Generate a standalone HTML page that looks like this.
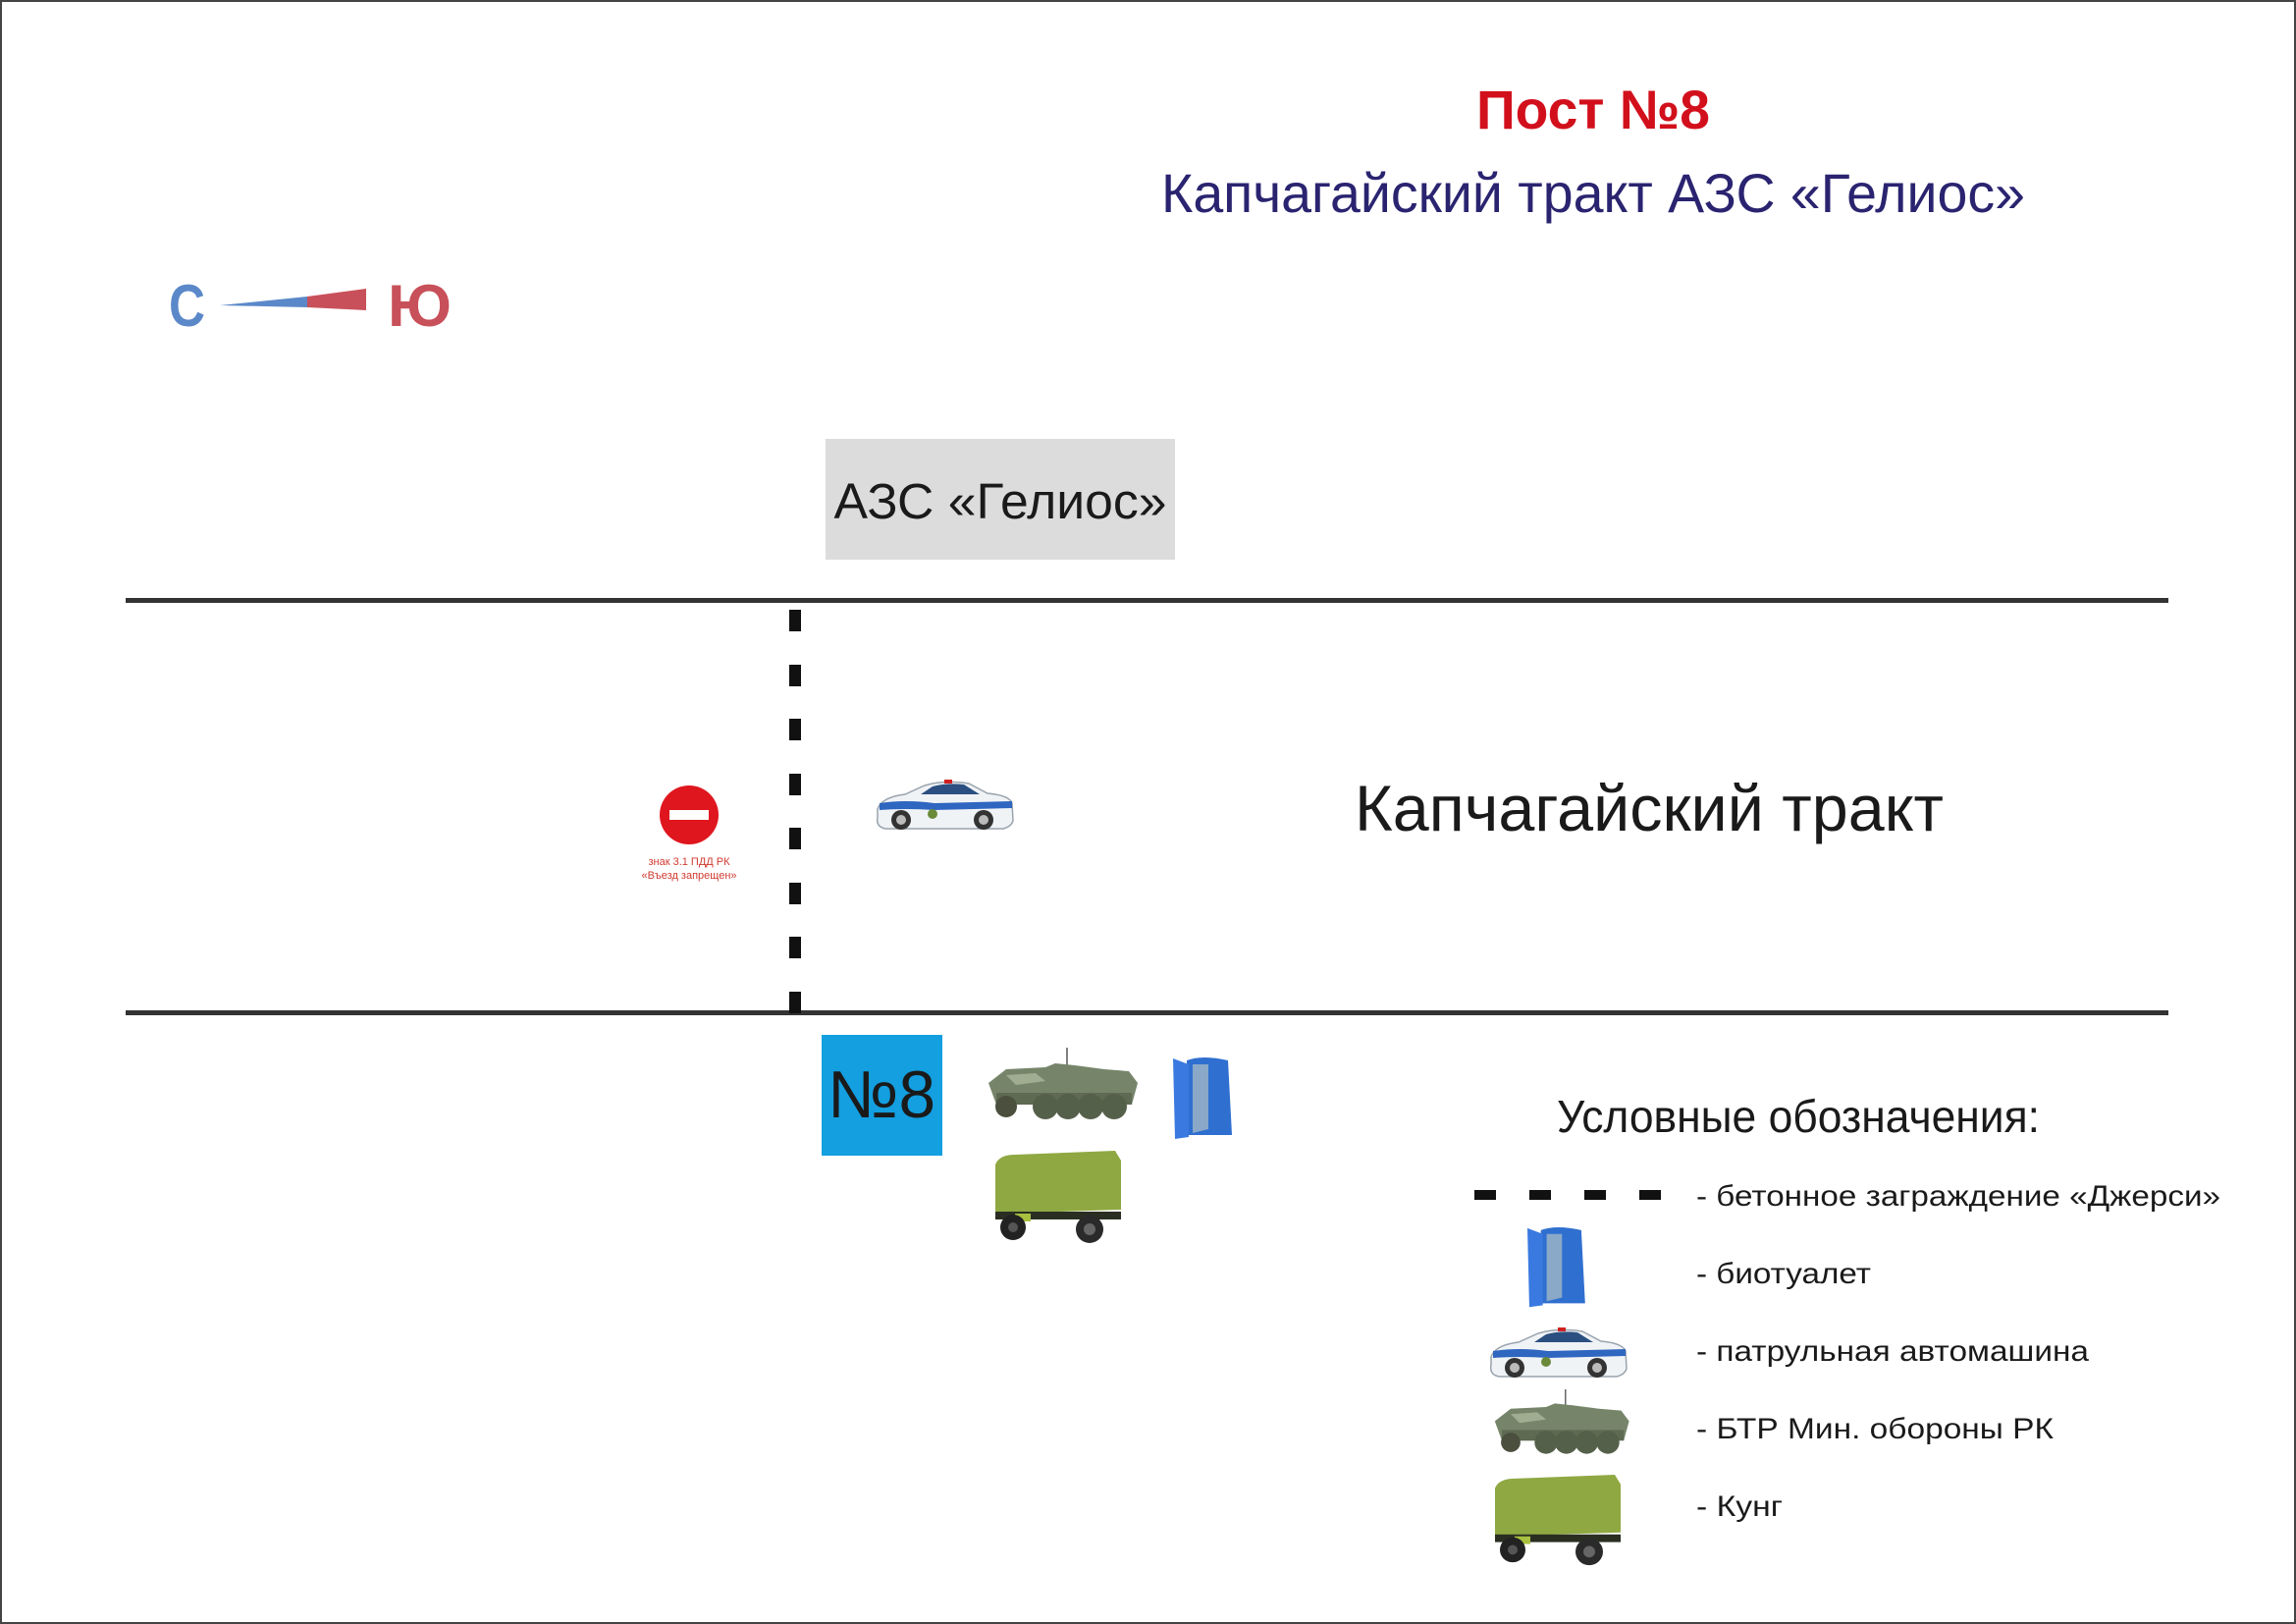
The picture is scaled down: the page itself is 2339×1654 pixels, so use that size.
<!DOCTYPE html>
<html><head><meta charset="utf-8"><style>
html,body{margin:0;padding:0;background:#fff;}
svg{display:block;}
text{font-family:"Liberation Sans",sans-serif;}
</style></head><body>
<svg width="2339" height="1654" viewBox="0 0 2339 1654" xmlns="http://www.w3.org/2000/svg">
<defs>
<g id="car">
<path d="M2,30 Q6,18 30,15 L50,6 Q70,0 95,4 L114,14 Q136,16 139,24 L140,42 Q138,48 130,50 L10,50 Q0,48 2,38 Z" fill="#f0f3f6" stroke="#9aa4ae" stroke-width="1.5"/>
<path d="M46,15 L58,7 Q72,3 90,5 L106,15 Z" fill="#2b4f80"/>
<path d="M4,24 Q30,20 60,24 L139,22 L139,29 L60,31 Q30,29 4,31 Z" fill="#2f66c0"/>
<rect x="70" y="0" width="8" height="4" fill="#d02020"/>
<circle cx="26" cy="41" r="10" fill="#333"/><circle cx="26" cy="41" r="5" fill="#bbb"/>
<circle cx="110" cy="41" r="10" fill="#333"/><circle cx="110" cy="41" r="5" fill="#bbb"/>
<circle cx="58" cy="35" r="5" fill="#6a8a3a"/>
</g>
<g id="btr">
<line x1="82" y1="0" x2="82" y2="28" stroke="#555" stroke-width="1.5"/>
<path d="M2,36 L20,22 L60,20 L70,16 L90,18 L120,22 L145,24 L154,36 L148,58 L10,58 Z" fill="#76856a"/>
<path d="M20,28 L50,26 L60,34 L30,38 Z" fill="#a0ad90"/>
<rect x="10" y="46" width="138" height="12" fill="#5e6a52"/>
<circle cx="20" cy="60" r="11" fill="#4a4f3e"/>
<circle cx="60" cy="60" r="13" fill="#55604a"/><circle cx="83" cy="60" r="13" fill="#55604a"/>
<circle cx="106" cy="60" r="13" fill="#55604a"/><circle cx="130" cy="60" r="13" fill="#55604a"/>
</g>
<g id="toilet">
<path d="M14,6 Q30,0 56,6 L60,82 L14,82 Z" fill="#2f6fd0"/>
<path d="M20,10 L36,10 L36,76 L20,80 Z" fill="#8aa8c8"/>
<path d="M0,4 L16,10 L16,84 L2,86 Z" fill="#3a7ae0"/>
</g>
<g id="kung">
<path d="M0,14 Q4,4 20,4 L122,0 L128,10 L128,60 L0,64 Z" fill="#8fa842"/>
<rect x="0" y="62" width="128" height="8" fill="#2a2e22"/>
<rect x="20" y="64" width="16" height="8" fill="#a8c040"/>
<circle cx="18" cy="78" r="13" fill="#222"/><circle cx="18" cy="78" r="5" fill="#555"/>
<circle cx="96" cy="80" r="14" fill="#2a2a2a"/><circle cx="96" cy="80" r="6" fill="#666"/>
</g>
</defs>
<rect x="1" y="1" width="2337" height="1652" fill="#fff" stroke="#444" stroke-width="2"/>

<text x="1623" y="131" text-anchor="middle" font-size="56" font-weight="bold" fill="#d2101c" textLength="238" lengthAdjust="spacingAndGlyphs">Пост №8</text>
<text x="1623" y="216" text-anchor="middle" font-size="56" fill="#2a2470" textLength="880" lengthAdjust="spacingAndGlyphs">Капчагайский тракт АЗС «Гелиос»</text>

<text x="172" y="332" font-size="60" font-weight="bold" fill="#5b88c8" textLength="37" lengthAdjust="spacingAndGlyphs">С</text>
<polygon points="224,311 313,302 313,313" fill="#5b88c8"/>
<polygon points="313,302 373,294 373,316 313,313" fill="#c8505a"/>
<text x="395" y="332" font-size="60" font-weight="bold" fill="#c8505a" textLength="65" lengthAdjust="spacingAndGlyphs">Ю</text>

<rect x="841" y="447" width="356" height="123" fill="#dcdcdc"/>
<text x="1019" y="528" text-anchor="middle" font-size="51" fill="#1a1a1a" textLength="339" lengthAdjust="spacingAndGlyphs">АЗС «Гелиос»</text>

<rect x="128" y="609" width="2081" height="5" fill="#333"/>
<rect x="128" y="1029" width="2081" height="5" fill="#333"/>

<g fill="#111">
<rect x="804" y="621" width="12" height="22"/><rect x="804" y="677" width="12" height="22"/>
<rect x="804" y="732" width="12" height="22"/><rect x="804" y="788" width="12" height="22"/>
<rect x="804" y="843" width="12" height="22"/><rect x="804" y="899" width="12" height="22"/>
<rect x="804" y="954" width="12" height="22"/><rect x="804" y="1010" width="12" height="22"/>
</g>

<circle cx="702" cy="830" r="30" fill="#e0161e"/>
<rect x="682" y="825" width="40" height="10" fill="#fff"/>
<text x="702" y="881" text-anchor="middle" font-size="11" fill="#d03a30">знак 3.1 ПДД РК</text>
<text x="702" y="895" text-anchor="middle" font-size="11" fill="#d03a30">«Въезд запрещен»</text>

<use href="#car" transform="translate(892,794)"/>
<text x="1380" y="846" font-size="66" fill="#1a1a1a" textLength="600" lengthAdjust="spacingAndGlyphs">Капчагайский тракт</text>

<rect x="837" y="1054" width="123" height="123" fill="#139fe0"/>
<text x="898" y="1138" text-anchor="middle" font-size="68" fill="#1a1a1a" textLength="110" lengthAdjust="spacingAndGlyphs">№8</text>

<use href="#btr" transform="translate(1005,1067)"/>
<use href="#toilet" transform="translate(1195,1074)"/>
<use href="#kung" transform="translate(1014,1172)"/>

<text x="1586" y="1153" font-size="46" fill="#1a1a1a" textLength="492" lengthAdjust="spacingAndGlyphs">Условные обозначения:</text>
<g fill="#111">
<rect x="1502" y="1212" width="22" height="10"/><rect x="1558" y="1212" width="22" height="10"/>
<rect x="1614" y="1212" width="22" height="10"/><rect x="1670" y="1212" width="22" height="10"/>
</g>
<g font-size="30" fill="#1a1a1a">
<text x="1728" y="1228" textLength="534" lengthAdjust="spacingAndGlyphs">- бетонное заграждение «Джерси»</text>
<text x="1728" y="1307" textLength="178" lengthAdjust="spacingAndGlyphs">- биотуалет</text>
<text x="1728" y="1386" textLength="400" lengthAdjust="spacingAndGlyphs">- патрульная автомашина</text>
<text x="1728" y="1465" textLength="364" lengthAdjust="spacingAndGlyphs">- БТР Мин. обороны РК</text>
<text x="1728" y="1544" textLength="88" lengthAdjust="spacingAndGlyphs">- Кунг</text>
</g>
<use href="#toilet" transform="translate(1556,1247) scale(0.98)"/>
<use href="#car" transform="translate(1517,1352)"/>
<use href="#btr" transform="translate(1521,1415) scale(0.9,0.9)"/>
<use href="#kung" transform="translate(1523,1502) scale(1,0.98)"/>
</svg>
</body></html>
